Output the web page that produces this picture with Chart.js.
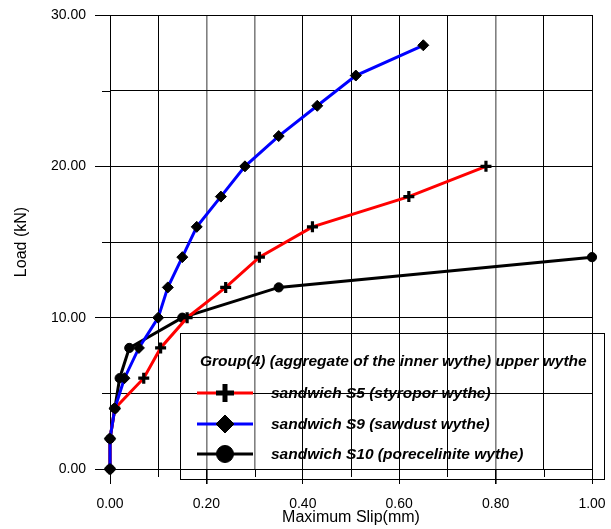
<!DOCTYPE html>
<html>
<head>
<meta charset="utf-8">
<script src="https://cdn.jsdelivr.net/npm/chart.js@4/dist/chart.umd.min.js"></script>
<style>
  html, body { margin: 0; padding: 0; background: #fff; }
  #wrap { width: 611px; height: 529px; }
</style>
</head>
<body>
<div id="wrap"><canvas id="c" width="611" height="529"></canvas></div>
<script>
// ---- data ----
const s5Slip  = [0, 0, 0.01, 0.07, 0.105, 0.16, 0.24, 0.31, 0.42, 0.62, 0.78];
const s5Load  = [0, 2, 4, 6, 8, 10, 12, 14, 16, 18, 20];
const s9Slip  = [0, 0, 0.01, 0.03, 0.06, 0.10, 0.12, 0.15, 0.18, 0.23, 0.28, 0.35, 0.43, 0.51, 0.65];
const s9Load  = [0, 2, 4, 6, 8, 10, 12, 14, 16, 18, 20, 22, 24, 26, 28];
const s10Slip = [0, 0, 0.01, 0.02, 0.04, 0.15, 0.35, 1.0];
const s10Load = [0, 2, 4, 6, 8, 10, 12, 14];
const seriesLabels = ['sandwich S5 (styropor wythe)', 'sandwich S9 (sawdust wythe)', 'sandwich S10 (porecelinite wythe)'];
const legendTitle = 'Group(4) (aggregate of the inner wythe) upper wythe';
const xTitle = 'Maximum Slip(mm)';
const yTitle = 'Load (kN)';

const pts = (xs, ys) => xs.map((x, i) => ({x: x, y: ys[i]}));
const FONT = 'Arial, "Liberation Sans", sans-serif';

const ds = [
  {label: seriesLabels[0], data: pts(s5Slip, s5Load), borderColor: '#ff0000', pointStyle: 'cross',
   pointRadius: 5.5, pointBorderWidth: 3.2, legendRadius: 9, legendBW: 5, order: 2},
  {label: seriesLabels[1], data: pts(s9Slip, s9Load), borderColor: '#0000ff', pointStyle: 'rectRot',
   pointRadius: 5.5, pointBorderWidth: 1, legendRadius: 9, legendBW: 1, order: 1},
  {label: seriesLabels[2], data: pts(s10Slip, s10Load), borderColor: '#000000', pointStyle: 'circle',
   pointRadius: 4.6, pointBorderWidth: 1, legendRadius: 8.5, legendBW: 1, order: 3}
].map(d => Object.assign(d, {
  borderWidth: 3, pointBackgroundColor: '#000', pointBorderColor: '#000',
  tension: 0, fill: false, showLine: true, clip: false
}));

const legendPlugin = {
  id: 'boxLegend',
  afterDraw(chart) {
    const ctx = chart.ctx;
    const o = chart.options.plugins.boxLegend;
    ctx.save();
    ctx.strokeStyle = '#000';
    ctx.lineWidth = 1;
    ctx.strokeRect(o.x + 0.5, o.y + 0.5, o.w, o.h);
    ctx.fillStyle = '#000';
    ctx.font = 'italic bold 15.5px ' + FONT;
    ctx.textBaseline = 'middle';
    ctx.textAlign = 'left';
    ctx.fillText(legendTitle, o.titleX, o.titleY);
    chart.data.datasets.forEach((d, i) => {
      const y = o.rowY[i];
      ctx.strokeStyle = d.borderColor;
      ctx.lineWidth = 3;
      ctx.beginPath();
      ctx.moveTo(o.lineX0, y);
      ctx.lineTo(o.lineX1, y);
      ctx.stroke();
      ctx.fillStyle = '#000';
      ctx.strokeStyle = '#000';
      ctx.lineWidth = d.legendBW;
      Chart.helpers.drawPoint(ctx, {pointStyle: d.pointStyle, radius: d.legendRadius, borderWidth: d.legendBW, rotation: 0},
        (o.lineX0 + o.lineX1) / 2, y);
      ctx.fillStyle = '#000';
      ctx.fillText(d.label, o.textX, y + 1);
    });
    ctx.restore();
  }
};

// short minor ticks (5, 15, 25 on y; odd tenths on x)
const minorTickPlugin = {
  id: 'minorTicks',
  afterDatasetsDraw(chart) {
    const ctx = chart.ctx;
    const xs = chart.scales.x, ys = chart.scales.y;
    ctx.save();
    ctx.strokeStyle = '#000';
    ctx.lineWidth = 1;
    ys.ticks.forEach(t => {
      if (Math.round(t.value) % 10 !== 0) {
        const py = Math.round(ys.getPixelForValue(t.value)) + 0.5;
        ctx.beginPath(); ctx.moveTo(xs.left - 8, py); ctx.lineTo(xs.left, py); ctx.stroke();
      }
    });
    xs.ticks.forEach((t, i) => {
      if (i % 2 === 1) {
        const px = Math.round(xs.getPixelForValue(t.value)) + 0.5;
        ctx.beginPath(); ctx.moveTo(px, ys.bottom); ctx.lineTo(px, ys.bottom + 8); ctx.stroke();
      }
    });
    ctx.restore();
  }
};

const greyX = [2, 3, 8];

new Chart(document.getElementById('c'), {
  type: 'scatter',
  data: {datasets: ds},
  plugins: [minorTickPlugin, legendPlugin],
  options: {
    responsive: false,
    animation: false,
    layout: {padding: {left: 0, right: 19, top: 15, bottom: 0}},
    plugins: {
      legend: {display: false},
      tooltip: {enabled: false},
      boxLegend: {x: 180, y: 333, w: 424, h: 146, titleX: 200, titleY: 362,
        lineX0: 197, lineX1: 253, rowY: [393, 424, 454], textX: 271}
    },
    scales: {
      x: {
        type: 'linear', min: 0, max: 1,
        afterFit: s => { s.height = 60; s.paddingLeft = 0; s.paddingRight = 0; },
        ticks: {
          stepSize: 0.1, color: '#000', font: {family: FONT, size: 14}, padding: 12, maxRotation: 0,
          autoSkip: false,
          callback: (v, i) => (i % 2 === 0 ? Number(v).toFixed(2) : '')
        },
        grid: {
          color: c => (greyX.includes(c.index) ? '#808080' : '#000'),
          lineWidth: c => (greyX.includes(c.index) ? 1.6 : 1),
          tickLength: 15,
          tickColor: c => (c.index % 2 === 0 ? '#000' : 'rgba(0,0,0,0)')},
        border: {display: true, color: '#000'},
        title: {display: true, text: xTitle, color: '#000', font: {family: FONT, size: 16}, padding: {top: 0, bottom: 2}}
      },
      y: {
        type: 'linear', min: 0, max: 30,
        afterFit: s => { s.width = 110; s.paddingTop = 0; s.paddingBottom = 0; },
        ticks: {
          stepSize: 5, color: '#000', font: {family: FONT, size: 14}, padding: 9,
          callback: v => (Math.round(v) % 10 === 0 ? Number(v).toFixed(2) : '')
        },
        grid: {color: '#000', lineWidth: 1, tickLength: 15,
          tickColor: c => (c.tick && Math.round(c.tick.value) % 10 === 0 ? '#000' : 'rgba(0,0,0,0)')},
        border: {display: true, color: '#000'},
        title: {display: true, text: yTitle, color: '#000', font: {family: FONT, size: 16}, padding: {top: 12, bottom: 0}}
      }
    }
  }
});
</script>
</body>
</html>
